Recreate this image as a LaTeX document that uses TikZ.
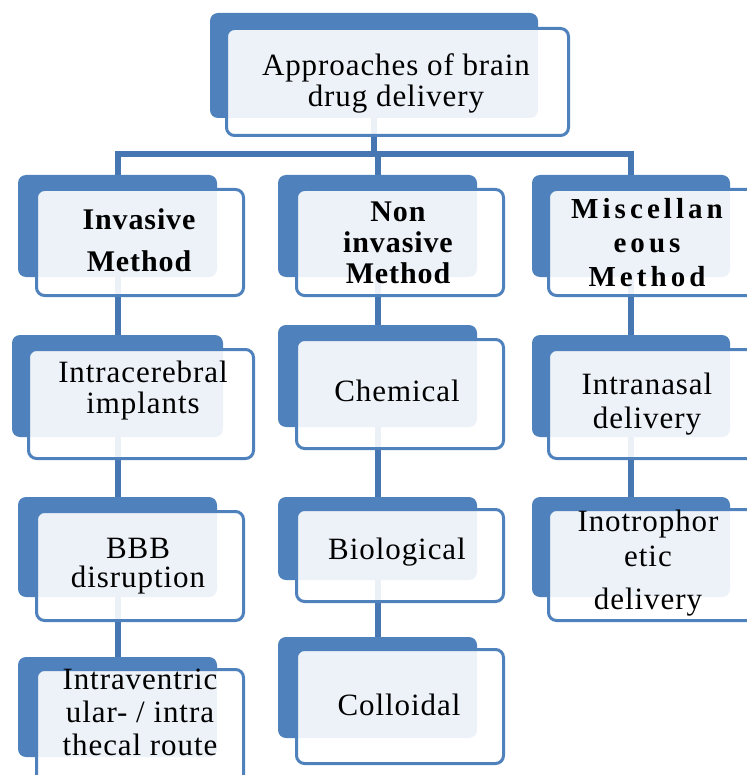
\documentclass[tikz,border=0pt]{standalone}
\usepackage{fontspec}
\setmainfont{Liberation Serif}
\newfontfamily\rs{Liberation Serif}[LetterSpace=3]
\newfontfamily\bs{Liberation Serif}[LetterSpace=3]
\newfontfamily\bw{Liberation Serif}[LetterSpace=14]
\usetikzlibrary{fit,backgrounds}
\definecolor{blueA}{HTML}{4F81BD}
\definecolor{lineblue}{HTML}{4677B2}
\tikzset{
  backbox/.style={fill=blueA, draw=none, rounded corners=8pt, inner sep=0pt},
  frontbox/.style={draw=blueA, line width=3pt, fill=white, fill opacity=0.9, rounded corners=8pt, inner sep=-1.5pt},
  link/.style={draw=lineblue, line width=6pt},
  txt/.style={align=center, inner sep=0pt, font=\rs\fontsize{31}{33}\selectfont},
  btxt/.style={align=center, inner sep=0pt, font=\bs\bfseries\fontsize{30}{31}\selectfont}
}
\begin{document}
\begin{tikzpicture}[x=1pt,y=-1pt]
\useasboundingbox (0,0) rectangle (746,775);
% back boxes
\node (b1) [backbox, fit={(210,13) (538,118)}] {};
\node (b2) [backbox, fit={(18,175) (217,277)}] {};
\node (b3) [backbox, fit={(278,175) (477,277)}] {};
\node (b4) [backbox, fit={(532,175) (730,277)}] {};
\node (b5) [backbox, fit={(12,335) (223,437)}] {};
\node (b6) [backbox, fit={(18,497) (217,597)}] {};
\node (b7) [backbox, fit={(18,657) (217,757)}] {};
\node (b8) [backbox, fit={(278,325) (477,427)}] {};
\node (b9) [backbox, fit={(278,497) (477,580)}] {};
\node (b10) [backbox, fit={(278,637) (477,738)}] {};
\node (b11) [backbox, fit={(532,335) (730,437)}] {};
\node (b12) [backbox, fit={(532,497) (730,597)}] {};
% front boxes
\node (f1) [frontbox, fit={(225,27) (570,137)}] {};
\node (f2) [frontbox, fit={(35,188) (245,297)}] {};
\node (f3) [frontbox, fit={(295,188) (505,297)}] {};
\node (f4) [frontbox, fit={(547,188) (757,297)}] {};
\node (f5) [frontbox, fit={(27,348) (255,460)}] {};
\node (f6) [frontbox, fit={(35,510) (245,622)}] {};
\node (f7) [frontbox, fit={(35,668) (245,790)}] {};
\node (f8) [frontbox, fit={(295,338) (505,450)}] {};
\node (f9) [frontbox, fit={(295,508) (505,603)}] {};
\node (f10) [frontbox, fit={(295,648) (505,765)}] {};
\node (f11) [frontbox, fit={(547,348) (757,460)}] {};
\node (f12) [frontbox, fit={(547,508) (757,622)}] {};
% texts
\node (t1) [txt, font=\rs\fontsize{31}{31}\selectfont] at (396,83) {Approaches of brain\\drug delivery};
\node (t2) [btxt, font=\bs\bfseries\fontsize{30}{42}\selectfont] at (139,240) {Invasive\\Method};
\node (t3) [btxt] at (398,243) {Non\\invasive\\Method};
\node (t4) [btxt, font=\bw\bfseries\fontsize{29}{34}\selectfont] at (647,243) {Miscellan\\eous\\Method};
\node (t5) [txt, font=\rs\fontsize{31}{31}\selectfont] at (143,391) {Intracerebral\\implants};
\node (t6) [txt, font=\rs\fontsize{31}{29}\selectfont] at (138,566) {BBB\\disruption};
\node (t7) [txt, font=\rs\fontsize{31}{33}\selectfont] at (140,712) {Intraventric\\ular- / intra\\thecal route};
\node (t8) [txt] at (397,391) {Chemical};
\node (t9) [txt] at (397,552) {Biological};
\node (t10) [txt] at (399,705) {Colloidal};
\node (t11) [txt, font=\rs\fontsize{31}{34}\selectfont] at (647,404) {Intranasal\\delivery};
\node (t12) [txt, font=\rs\fontsize{31}{35}\selectfont] at (648,563) {Inotrophor\\etic\\[8pt]delivery};
% connectors
\begin{scope}[on background layer]
\fill[white] (0,0) rectangle (746,775);
\path (b1.south) ++(0,36) coordinate (bus);
\draw[link] (b1.south) -- (bus);
\draw[link] (b2.north) |- (bus) -| (b4.north);
\draw[link] (b3.north) -- (b3.north |- bus);
\draw[link] (b2.south) -- (b5.north);
\draw[link] (b5.south) -- (b6.north);
\draw[link] (b6.south) -- (b7.north);
\draw[link] (b3.south) -- (b8.north);
\draw[link] (b8.south) -- (b9.north);
\draw[link] (b9.south) -- (b10.north);
\draw[link] (b4.south) -- (b11.north);
\draw[link] (b11.south) -- (b12.north);
\end{scope}
\end{tikzpicture}
\end{document}
